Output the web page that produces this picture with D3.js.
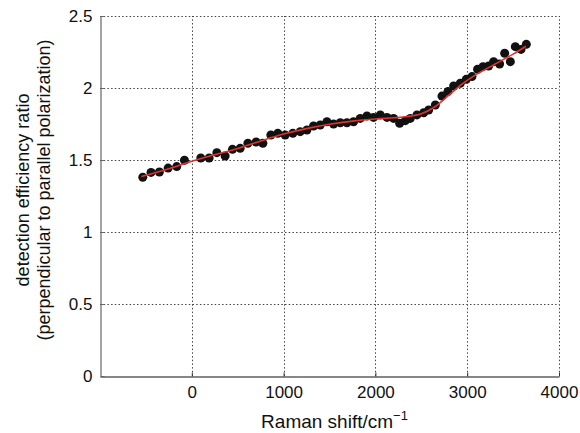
<!DOCTYPE html>
<html>
<head>
<meta charset="utf-8">
<script src="https://cdn.jsdelivr.net/npm/d3@7"></script>
<style>
  html, body { margin: 0; padding: 0; background: #fff; }
  text { font-family: "Liberation Sans", Arial, Helvetica, sans-serif; fill: #111; }
</style>
</head>
<body>
<svg id="chart" width="580" height="433"></svg>
<script>
// Measured detection efficiency ratio vs Raman shift
const shiftValues = [-534, -444, -353, -258, -164, -80, 98, 189, 273, 363, 443, 527, 611, 701,
  774, 861, 937, 1017, 1101, 1181, 1254, 1326, 1399, 1472, 1544, 1617, 1690, 1762, 1835, 1908,
  1980, 2053, 2126, 2198, 2264, 2326, 2380, 2453, 2526, 2580, 2653, 2725, 2790, 2852, 2925,
  2990, 3052, 3113, 3172, 3233, 3288, 3353, 3408, 3470, 3524, 3586, 3644];
const ratioValues = [1.380, 1.414, 1.417, 1.444, 1.454, 1.498, 1.514, 1.514, 1.551, 1.528, 1.574,
  1.581, 1.616, 1.625, 1.616, 1.674, 1.685, 1.674, 1.685, 1.697, 1.708, 1.736, 1.743, 1.766,
  1.750, 1.759, 1.759, 1.766, 1.789, 1.806, 1.796, 1.813, 1.796, 1.789, 1.755, 1.773, 1.789,
  1.813, 1.828, 1.847, 1.882, 1.944, 1.975, 2.014, 2.033, 2.060, 2.079, 2.130, 2.148, 2.153,
  2.183, 2.167, 2.241, 2.183, 2.287, 2.268, 2.303];

// Smoothed fit curve
const fitShift = [-550, -250, 0, 250, 500, 750, 1000, 1250, 1500, 1750, 2000, 2200, 2350,
  2500, 2650, 2800, 2950, 3100, 3300, 3500, 3640];
const fitRatio = [1.385, 1.44, 1.492, 1.537, 1.58, 1.632, 1.68, 1.718, 1.748, 1.77, 1.785,
  1.793, 1.802, 1.822, 1.87, 1.95, 2.03, 2.095, 2.165, 2.235, 2.29];

const xTicks = [0, 1000, 2000, 3000, 4000];
const yTicks = [0, 0.5, 1, 1.5, 2, 2.5];
const yTickLabels = ["0", "0.5", "1", "1.5", "2", "2.5"];

const svg = d3.select("#chart");
const plotLeft = 100, plotRight = 559, plotTop = 16, plotBottom = 376;

const x = d3.scaleLinear().domain([-1000, 4000]).range([plotLeft, plotRight]);
const y = d3.scaleLinear().domain([0, 2.5]).range([plotBottom, plotTop]);

// dotted grid
const grid = svg.append("g").attr("stroke", "#444").attr("stroke-width", 1)
  .attr("stroke-dasharray", "1.5,2.2");
grid.selectAll("line.v").data(xTicks).join("line")
  .attr("x1", d => Math.round(x(d)) + 0.5).attr("x2", d => Math.round(x(d)) + 0.5)
  .attr("y1", plotBottom).attr("y2", plotTop);
grid.selectAll("line.h").data(yTicks.filter(d => d > 0)).join("line")
  .attr("y1", d => Math.round(y(d)) + 0.5).attr("y2", d => Math.round(y(d)) + 0.5)
  .attr("x1", plotLeft).attr("x2", plotRight);

// axes
const xAxis = d3.axisBottom(x).tickValues(xTicks).tickFormat(d3.format("d"))
  .tickSizeInner(-4).tickSizeOuter(0).tickPadding(9);
const yAxis = d3.axisLeft(y).tickValues(yTicks).tickSizeInner(-4).tickSizeOuter(0).tickPadding(8)
  .tickFormat((d, i) => yTickLabels[i]);

const gx = svg.append("g").attr("transform", `translate(0,${plotBottom + 0.5})`).call(xAxis);
gx.select(".domain").attr("stroke", "#111").attr("stroke-width", 1.2);
gx.selectAll(".tick line").attr("stroke", "#333");
gx.selectAll("text").attr("font-size", 17).attr("fill", "#111")
  .attr("font-family", "Liberation Sans, Arial, sans-serif");

const gy = svg.append("g").attr("transform", `translate(${plotLeft + 0.5},0)`).call(yAxis);
gy.select(".domain").attr("stroke", "#666").attr("stroke-width", 1.2);
gy.selectAll(".tick line").attr("stroke", "#666");
gy.selectAll("text").attr("font-size", 17).attr("fill", "#111")
  .attr("font-family", "Liberation Sans, Arial, sans-serif");

// data points
const pts = shiftValues.map((s, i) => ({ s, r: ratioValues[i] }));
svg.append("g").selectAll("circle").data(pts).join("circle")
  .attr("cx", d => x(d.s)).attr("cy", d => y(d.r)).attr("r", 4.5)
  .attr("fill", "#111");

// fit curve
const fit = fitShift.map((s, i) => [s, fitRatio[i]]);
svg.append("path").datum(fit)
  .attr("fill", "none").attr("stroke", "#e0332b").attr("stroke-width", 1.6)
  .attr("d", d3.line().x(d => x(d[0])).y(d => y(d[1])).curve(d3.curveCatmullRom.alpha(0.5)));

// axis titles
const xt = svg.append("text").attr("x", (plotLeft + plotRight) / 2 + 5).attr("y", 428)
  .attr("text-anchor", "middle").attr("font-size", 19);
xt.append("tspan").text("Raman shift/cm");
xt.append("tspan").attr("dy", -8).attr("font-size", 13).text("\u22121");

const yt = svg.append("text").attr("transform", `translate(0,${(plotTop + plotBottom) / 2 - 6}) rotate(-90)`)
  .attr("text-anchor", "middle").attr("font-size", 18);
yt.append("tspan").attr("x", 0).attr("y", 29).text("detection efficiency ratio");
yt.append("tspan").attr("x", 0).attr("y", 50).text("(perpendicular to parallel polarization)");
</script>
</body>
</html>
